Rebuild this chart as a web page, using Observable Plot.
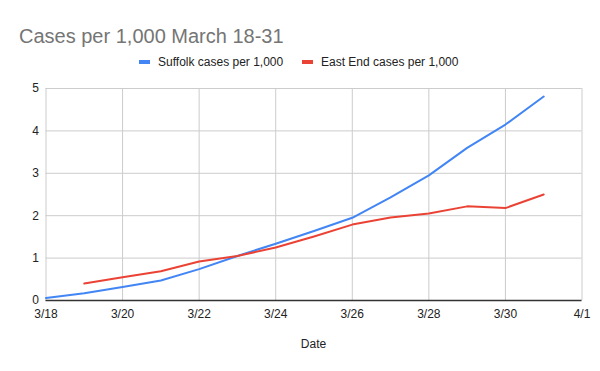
<!DOCTYPE html>
<html>
<head>
<meta charset="utf-8">
<script src="https://cdn.jsdelivr.net/npm/d3@7"></script>
<script src="https://cdn.jsdelivr.net/npm/@observablehq/plot@0.6"></script>
<style>
  html, body { margin: 0; padding: 0; background: #fff; }
  #wrap { position: relative; width: 600px; height: 371px; font-family: "Liberation Sans", Arial, sans-serif; }
  #title { position: absolute; left: 19px; top: 24px; font-size: 20px; color: #757575; white-space: nowrap; line-height: 24px; }
  #legend { position: absolute; left: 0; top: 54px; width: 600px; height: 16px; font-size: 12px; color: #222; }
  .item { position: absolute; top: 0; white-space: nowrap; line-height: 16px; }
  .sw { display: inline-block; width: 11px; height: 4px; vertical-align: middle; margin-right: 8px; position: relative; top: -1px; }
  #xlabel { position: absolute; left: 0; width: 627px; text-align: center; top: 337px; font-size: 12px; color: #222; }
  svg { position: absolute; left: 0; top: 0; }
</style>
</head>
<body>
<div id="wrap">
  <div id="title">Cases per 1,000 March 18-31</div>
  <div id="legend"></div>
  <div id="xlabel">Date</div>
</div>
<script>
// Data
const dates = ["2020-03-18","2020-03-19","2020-03-20","2020-03-21","2020-03-22","2020-03-23","2020-03-24",
               "2020-03-25","2020-03-26","2020-03-27","2020-03-28","2020-03-29","2020-03-30","2020-03-31"];
const suffolk = [0.06, 0.17, 0.32, 0.47, 0.74, 1.05, 1.34, 1.64, 1.95, 2.43, 2.95, 3.60, 4.15, 4.81];
const eastEnd = [null, 0.40, 0.55, 0.69, 0.92, 1.05, 1.25, 1.51, 1.79, 1.96, 2.05, 2.22, 2.18, 2.50];
const seriesNames = ["Suffolk cases per 1,000", "East End cases per 1,000"];
const seriesColors = ["#4285f4", "#ea4335"];
const xTickDates = ["2020-03-18","2020-03-20","2020-03-22","2020-03-24","2020-03-26","2020-03-28","2020-03-30","2020-04-01"];
const yTicks = [0, 1, 2, 3, 4, 5];

const parse = d3.utcParse("%Y-%m-%d");
const fmt = d3.utcFormat("%-m/%-d");
const rows = [];
dates.forEach((d, i) => {
  rows.push({date: parse(d), value: suffolk[i], series: seriesNames[0]});
  if (eastEnd[i] != null) rows.push({date: parse(d), value: eastEnd[i], series: seriesNames[1]});
});
const xTicks = xTickDates.map(parse);

const chart = Plot.plot({
  width: 600,
  height: 371,
  marginTop: 88,
  marginBottom: 71,
  marginLeft: 45.5,
  marginRight: 18.5,
  style: {fontFamily: "'Liberation Sans', Arial, sans-serif", fontSize: "12px", color: "#222", background: "transparent"},
  x: {type: "utc", domain: [xTicks[0], xTicks[xTicks.length - 1]]},
  y: {domain: [0, 5]},
  color: {domain: seriesNames, range: seriesColors},
  marks: [
    Plot.gridX(xTicks, {stroke: "#cccccc", strokeOpacity: 1}),
    Plot.gridY(yTicks, {stroke: "#cccccc", strokeOpacity: 1}),
    Plot.axisX(xTicks, {tickSize: 0, tickPadding: 9, tickFormat: fmt, label: null, fill: "#222"}),
    Plot.axisY(yTicks, {tickSize: 0, tickPadding: 7, label: null, fill: "#222"}),
    Plot.line(rows, {x: "date", y: "value", z: "series", stroke: "series", strokeWidth: 2, curve: "linear"}),
    Plot.ruleY([0], {stroke: "#333", strokeWidth: 1.5})
  ]
});
document.getElementById("wrap").appendChild(chart);

// Legend
const legend = document.getElementById("legend");
const lefts = [139, 302];
seriesNames.forEach((name, i) => {
  const it = document.createElement("div");
  it.className = "item";
  it.style.left = lefts[i] + "px";
  const sw = document.createElement("span");
  sw.className = "sw";
  sw.style.background = seriesColors[i];
  it.appendChild(sw);
  it.appendChild(document.createTextNode(name));
  legend.appendChild(it);
});
</script>
</body>
</html>
